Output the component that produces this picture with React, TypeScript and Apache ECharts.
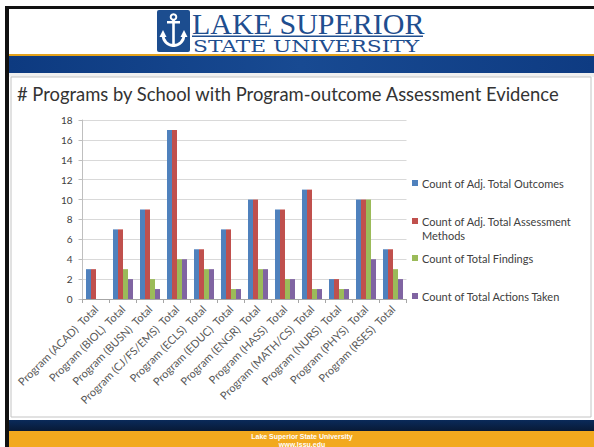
import React, { useEffect, useRef } from "react";
import * as echarts from "echarts";

const categories = [
  "Program (ACAD)  Total",
  "Program (BIOL)  Total",
  "Program (BUSN)  Total",
  "Program (CJ/FS/EMS)  Total",
  "Program (ECLS)  Total",
  "Program (EDUC)  Total",
  "Program (ENGR)  Total",
  "Program (HASS)  Total",
  "Program (MATH/CS)  Total",
  "Program (NURS)  Total",
  "Program (PHYS)  Total",
  "Program (RSES)  Total",
];

const seriesNames = [
  "Count of Adj. Total Outcomes",
  "Count of Adj. Total Assessment\nMethods",
  "Count of Total Findings",
  "Count of Total Actions Taken",
];

const outcomes = [3, 7, 9, 17, 5, 7, 10, 9, 11, 2, 10, 5];
const methods = [3, 7, 9, 17, 5, 7, 10, 9, 11, 2, 10, 5];
const findings = [0, 3, 2, 4, 3, 1, 3, 2, 1, 1, 10, 3];
const actions = [0, 2, 1, 4, 3, 1, 3, 2, 1, 1, 4, 2];

const colors = ["#4F81BD", "#C0504D", "#9BBB59", "#8064A2"];

const titleText = "# Programs by School with Program-outcome Assessment Evidence";
const footerLine1 = "Lake Superior State University";
const footerLine2 = "www.lssu.edu";

export default function App() {
  const ref = useRef<HTMLDivElement>(null);

  useEffect(() => {
    if (!ref.current) return;
    const chart = echarts.init(ref.current, null, { renderer: "svg" });
    const font = "Lato, 'Open Sans', sans-serif";
    const values = [outcomes, methods, findings, actions];
    const legendTops = [176, 214, 251, 289];

    const option: any = {
      animation: false,
      backgroundColor: "#ffffff",
      title: {
        text: titleText,
        left: 17,
        top: 85,
        padding: 0,
        textStyle: {
          fontFamily: font,
          fontSize: 18.4,
          fontWeight: "normal",
          color: "#333333",
        },
      },
      legend: seriesNames.map((n, i) => ({
        data: [n],
        left: 412,
        top: legendTops[i],
        padding: 0,
        orient: "vertical",
        itemWidth: 6,
        itemHeight: i === 1 ? 20 : 6,
        icon: i === 1 ? "path://M0,0h6v6h-6z M0,20h0.01" : "rect",
        selectedMode: false,
        textStyle: {
          fontFamily: font,
          fontSize: 11,
          color: "#404040",
          lineHeight: 14,
          padding: [0, 0, 0, -1],
        },
      })),
      grid: {
        left: 82.5,
        right: 187.5,
        top: 120,
        bottom: 148,
        containLabel: false,
      },
      xAxis: {
        type: "category",
        data: categories,
        axisLine: { lineStyle: { color: "#a6a6a6" } },
        axisTick: { show: true, length: 4, lineStyle: { color: "#a6a6a6" } },
        axisLabel: {
          rotate: 45,
          interval: 0,
          margin: 8,
          fontFamily: font,
          fontSize: 11,
          color: "#595959",
        },
      },
      yAxis: {
        type: "value",
        min: 0,
        max: 18,
        interval: 2,
        axisLine: { show: true, lineStyle: { color: "#bfbfbf" } },
        axisTick: { show: true, length: 4, lineStyle: { color: "#bfbfbf" } },
        splitLine: { lineStyle: { color: "#d9d9d9" } },
        axisLabel: {
          margin: 10,
          fontFamily: font,
          fontSize: 10,
          color: "#404040",
        },
      },
      series: seriesNames.map((n, i) => ({
        name: n,
        type: "bar",
        data: values[i],
        barWidth: 5,
        barGap: "0%",
        itemStyle: { color: colors[i] },
      })),
      graphic: [
        { type: "rect", z: -20, shape: { x: 0, y: 0, width: 594, height: 447 }, style: { fill: "#ffffff" } },
        { type: "rect", z: -19, shape: { x: 5, y: 6, width: 589, height: 3 }, style: { fill: "#111111" } },
        { type: "rect", z: -19, shape: { x: 5, y: 6, width: 4, height: 441 }, style: { fill: "#111111" } },
        { type: "rect", z: -19, shape: { x: 9, y: 54, width: 585, height: 2 }, style: { fill: "#e3a21c" } },
        {
          type: "rect",
          z: -19,
          shape: { x: 9, y: 56, width: 585, height: 17 },
          style: {
            fill: new echarts.graphic.LinearGradient(0, 0, 1, 0, [
              { offset: 0, color: "#0d3a80" },
              { offset: 0.5, color: "#184a92" },
              { offset: 1, color: "#0e3b82" },
            ]),
          },
        },
        { type: "rect", z: -19, shape: { x: 9, y: 73, width: 585, height: 4 }, style: { fill: "#f0f0f0" } },
        {
          type: "rect",
          z: -18,
          shape: { x: 11, y: 77, width: 580, height: 340 },
          style: { fill: "#ffffff", stroke: "#c4c4c4", lineWidth: 1 },
        },
        {
          type: "rect",
          z: -19,
          shape: { x: 9, y: 420, width: 585, height: 11 },
          style: {
            fill: new echarts.graphic.LinearGradient(0, 0, 0, 1, [
              { offset: 0, color: "#0a2a5a" },
              { offset: 1, color: "#081a36" },
            ]),
          },
        },
        { type: "rect", z: -19, shape: { x: 9, y: 431, width: 585, height: 16 }, style: { fill: "#f2a91e" } },
        {
          type: "text",
          z: -10,
          style: {
            x: 302,
            y: 436.5,
            text: footerLine1,
            fill: "#ffffff",
            font: "bold 7px 'Liberation Sans', Arial, sans-serif",
            align: "center",
            verticalAlign: "middle",
          },
        },
        {
          type: "text",
          z: -10,
          style: {
            x: 302,
            y: 444,
            text: footerLine2,
            fill: "#ffffff",
            font: "bold 7px 'Liberation Sans', Arial, sans-serif",
            align: "center",
            verticalAlign: "middle",
          },
        },
        // logo
        {
          type: "rect",
          z: -10,
          shape: { x: 157, y: 10, width: 33, height: 42, r: 2 },
          style: { fill: "#1c4d8f" },
        },
        {
          type: "circle",
          z: -9,
          shape: { cx: 173.5, cy: 17, r: 2.8 },
          style: { fill: "none", stroke: "#ffffff", lineWidth: 2 },
        },
        { type: "rect", z: -9, shape: { x: 167, y: 21, width: 13, height: 2.5 }, style: { fill: "#ffffff" } },
        { type: "rect", z: -9, shape: { x: 172.2, y: 20, width: 2.6, height: 27 }, style: { fill: "#ffffff" } },
        {
          type: "arc",
          z: -9,
          shape: { cx: 173.5, cy: 35, r: 10.5, startAngle: 0, endAngle: Math.PI, clockwise: true },
          style: { fill: "none", stroke: "#ffffff", lineWidth: 2.8 },
        },
        {
          type: "polygon",
          z: -9,
          shape: { points: [[159.5, 37], [163, 30], [166.5, 37]] },
          style: { fill: "#ffffff" },
        },
        {
          type: "polygon",
          z: -9,
          shape: { points: [[180.5, 37], [184, 30], [187.5, 37]] },
          style: { fill: "#ffffff" },
        },
        {
          type: "text",
          z: -10,
          style: {
            x: 192,
            y: 23,
            text: "LAKE SUPERIOR",
            fill: "#1f4e8f",
            font: "30px 'Liberation Serif', 'Times New Roman', serif",
            verticalAlign: "middle",
          },
        },
        { type: "rect", z: -10, shape: { x: 192, y: 35.5, width: 231, height: 1.5 }, style: { fill: "#1f4e8f" } },
        {
          type: "text",
          z: -10,
          x: 193,
          y: 46.5,
          scaleX: 1.36,
          style: {
            x: 0,
            y: 0,
            text: "STATE UNIVERSITY",
            fill: "#1f4e8f",
            font: "16px 'DejaVu Serif', serif",
            verticalAlign: "middle",
          },
        },
      ],
    };

    chart.setOption(option);
    return () => chart.dispose();
  }, []);

  return (
    <div
      ref={ref}
      style={{ position: "absolute", left: 0, top: 0, width: 594, height: 447 }}
    />
  );
}
